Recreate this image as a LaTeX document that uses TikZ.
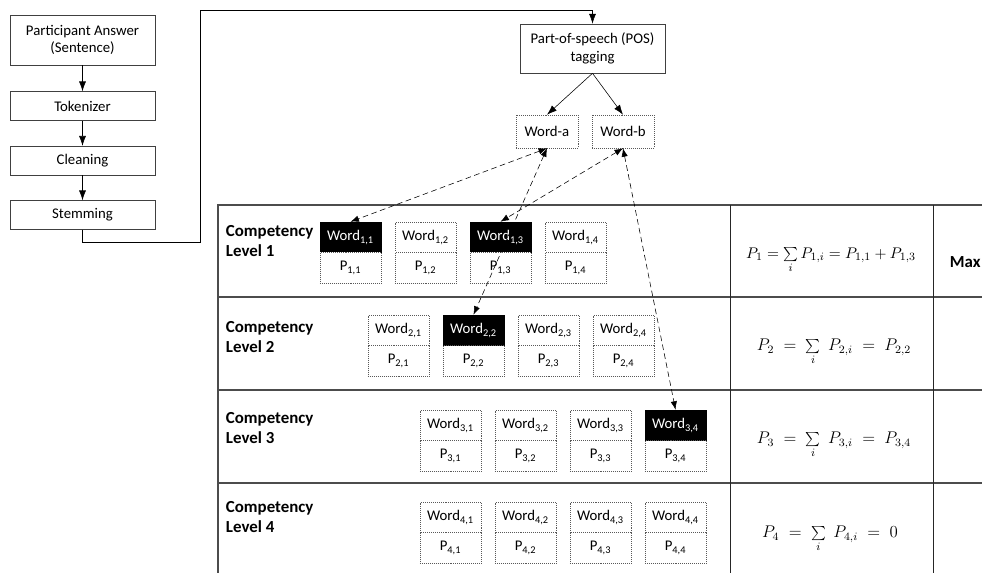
\documentclass[tikz,border=0pt]{standalone}
\usepackage{fontspec}
\setmainfont{Carlito}
\usetikzlibrary{calc,arrows.meta}

\def\rowlist{{1/320/222/241}, {2/368/315/337}, {3/420/410/428}, {4/420/502/517}}
\tikzstyle{flow}=[draw=black!75, fill=white, minimum width=3.625cm, minimum height=0.72cm, inner sep=0pt, align=center]
\tikzstyle{dotbox}=[draw=black!65, densely dotted, fill=white, inner sep=0pt]
\tikzstyle{word}=[dotbox, minimum width=1.525cm, minimum height=0.775cm]
\tikzstyle{hl}=[fill=black, text=white, draw=black, solid]
\tikzstyle{link}=[draw, dash pattern=on 4pt off 2.5pt, {Latex[length=6pt,width=4.5pt]}-{Latex[length=6pt,width=4.5pt]}]
\tikzstyle{grid}=[draw=black!70, line width=0.9pt]
\tikzstyle{level}=[anchor=west, align=left, font=\fontsize{12}{14}\selectfont\bfseries]
\tikzstyle{sum}=[font=\fontsize{12}{14}\selectfont]
\tikzset{cell11/.style={hl}, cell13/.style={hl}, cell22/.style={hl}, cell34/.style={hl}}

\begin{document}
\begin{tikzpicture}[x=0.025cm, y=-0.025cm, >={Latex[length=7pt,width=5pt]}, font=\fontsize{10.5}{12.5}\selectfont]
  \useasboundingbox (0,0) rectangle (982,573);

  % preprocessing chain
  \node[flow, minimum height=1.25cm] (answer) at (82.5,40) {Participant Answer\\(Sentence)};
  \node[flow] (tok) at (82.5,106) {Tokenizer};
  \node[flow] (clean) at (82.5,160.5) {Cleaning};
  \node[flow] (stem) at (82.5,215) {Stemming};
  \foreach \source/\sink in {answer/tok, tok/clean, clean/stem} {
    \draw[->] (\source) -- (\sink);
  }

  % tagging
  \node[flow, minimum height=1.225cm] (pos) at (592.5,48.5) {Part-of-speech (POS)\\tagging};
  \node[dotbox, minimum width=1.55cm, minimum height=0.825cm] (wa) at (547,131.5) {Word-a};
  \node[dotbox, minimum width=1.55cm, minimum height=0.825cm] (wb) at (623,131.5) {Word-b};
  \coordinate (c1) at (200,242);
  \coordinate (c2) at (200,10);
  \draw[->] (stem.south) |- (c1) -- (c2) -| (pos.north);
  \draw[->] (pos.south) -- (wa.north);
  \draw[->] (pos.south) -- (wb.north);

  % table
  \draw[grid] (982,205) -- (218,205) -- (218,573);
  \foreach \y in {297, 390, 483} {
    \draw[grid] (218,\y) -- (982,\y);
  }
  \foreach \x in {730, 933} {
    \draw[black!85, line width=0.7pt] (\x,205) -- (\x,573);
  }

  % levels
  \foreach \r/\xs/\yt/\yl in \rowlist {
    \node[level] (lev\r) at (221,\yl) {Competency\\Level \r};
    \foreach \c in {1,...,4} {
      \node[word, cell\r\c/.try] (w\r\c) at (\xs+75*\c-44.5, \yt+15.5) {Word\textsubscript{\r,\c}};
      \node[word] (p\r\c) at (\xs+75*\c-44.5, \yt+46) {P\textsubscript{\r,\c}};
    }
  }

  % sums
  \node (s1) at (831,260) {\fontsize{11}{13}\selectfont $P_1=\sum\limits_i P_{1,i}=P_{1,1}+P_{1,3}$};
  \node[sum] (s2) at (834,352) {$P_2\;=\;\sum\limits_i\;P_{2,i}\;=\;P_{2,2}$};
  \node[sum] (s3) at (834,445) {$P_3\;=\;\sum\limits_i\;P_{3,i}\;=\;P_{3,4}$};
  \node[sum] (s4) at (830,539) {$P_4\;=\;\sum\limits_i\;P_{4,i}\;=\;0$};
  \node[anchor=west, font=\fontsize{12}{14}\selectfont\bfseries] (max) at (945,262) {Max};

  % matches
  \foreach \source/\sink in {wa/w11, wa/w22, wb/w13, wb/w34} {
    \path[link] (\source.south) -- (\sink.north);
  }
\end{tikzpicture}
\end{document}
